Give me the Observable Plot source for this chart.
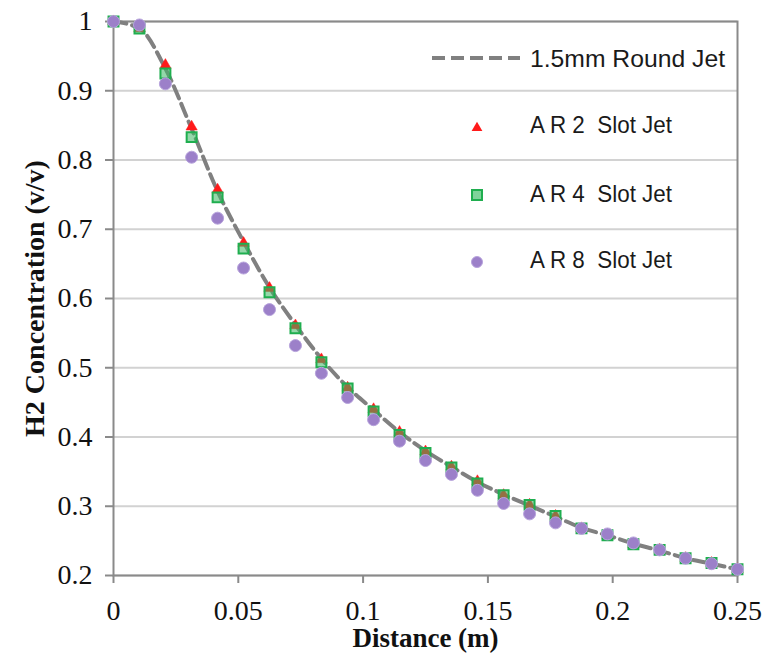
<!DOCTYPE html>
<html><head><meta charset="utf-8">
<script src="https://cdn.jsdelivr.net/npm/d3@7"></script>
<script src="https://cdn.jsdelivr.net/npm/@observablehq/plot@0.6"></script>
<style>
body{margin:0;background:#fff}
#wrap{position:relative;width:774px;height:658px}
#legend{position:absolute;left:0;top:0;pointer-events:none}
</style>
</head><body><div id="wrap"></div>
<script>
// Data
const distance = [0, 0.0104, 0.0208, 0.0313, 0.0417, 0.0521, 0.0625, 0.0729, 0.0833, 0.0938, 0.1042, 0.1146, 0.125, 0.1354, 0.1458, 0.1563, 0.1667, 0.1771, 0.1875, 0.1979, 0.2083, 0.2188, 0.2292, 0.2396, 0.25];
const roundJet = [1.0, 0.99, 0.932, 0.845, 0.755, 0.682, 0.616, 0.562, 0.513, 0.472, 0.439, 0.407, 0.38, 0.357, 0.335, 0.317, 0.301, 0.285, 0.269, 0.258, 0.246, 0.236, 0.225, 0.217, 0.209];
const ar2 = [1.0, 0.99, 0.937, 0.848, 0.757, 0.68, 0.615, 0.561, 0.512, 0.471, 0.44, 0.407, 0.379, 0.357, 0.336, 0.316, 0.302, 0.286, 0.268, 0.258, 0.245, 0.237, 0.225, 0.218, 0.209];
const ar4 = [1.0, 0.99, 0.925, 0.833, 0.746, 0.672, 0.609, 0.557, 0.508, 0.47, 0.437, 0.403, 0.377, 0.356, 0.333, 0.316, 0.302, 0.286, 0.268, 0.258, 0.245, 0.237, 0.225, 0.218, 0.209];
const ar8 = [1.0, 0.995, 0.91, 0.804, 0.716, 0.644, 0.584, 0.532, 0.492, 0.457, 0.425, 0.394, 0.366, 0.346, 0.323, 0.304, 0.289, 0.276, 0.268, 0.26, 0.247, 0.237, 0.225, 0.217, 0.209];
const xTicks = [0, 0.05, 0.1, 0.15, 0.2, 0.25];
const yTicks = [0.2, 0.3, 0.4, 0.5, 0.6, 0.7, 0.8, 0.9, 1];
const seriesNames = ["1.5mm Round Jet", "A R 2  Slot Jet", "A R 4  Slot Jet", "A R 8  Slot Jet"];
const xLabel = "Distance (m)";
const yLabel = "H2 Concentration (v/v)";

const serif = "'Liberation Serif', 'Times New Roman', serif";
const rows = (ys) => distance.map((d, i) => ({x: d, y: ys[i]}));
const fmt = d => String(+d.toFixed(2));

const chart = Plot.plot({
  width: 774, height: 658,
  marginLeft: 113, marginRight: 37, marginTop: 21, marginBottom: 83,
  style: {fontFamily: serif, fontSize: "28px", color: "#111", background: "#fff"},
  x: {domain: [0, 0.25]},
  y: {domain: [0.2, 1]},
  marks: [
    Plot.gridY(yTicks, {stroke: "#d2d2d2", strokeOpacity: 1, strokeWidth: 2}),
    Plot.frame({stroke: "#8a8a8a", strokeWidth: 2}),
    Plot.axisY(yTicks, {tickSize: 8, tickPadding: 13, tickFormat: fmt, stroke: "#8a8a8a", strokeWidth: 2, label: null, fill: "#111", fontSize: 28}),
    Plot.axisX(xTicks, {tickSize: 8, tickPadding: 17, tickFormat: fmt, stroke: "#8a8a8a", strokeWidth: 2, label: null, fill: "#111", fontSize: 28}),
    Plot.line(rows(roundJet), {x: "x", y: "y", stroke: "#808080", strokeWidth: 4, strokeDasharray: "13,6", curve: "monotone-x"}),
    Plot.dot(rows(ar2), {x: "x", y: "y", symbol: "triangle", r: 4.2, fill: "#ff1a1a", stroke: "#ff1a1a", strokeWidth: 0.5}),
    Plot.dot(rows(ar4), {x: "x", y: "y", symbol: "square", r: 5.6, fill: "#3cb864", fillOpacity: 0.55, stroke: "#1fae4f", strokeWidth: 2}),
    Plot.dot(rows(ar8), {x: "x", y: "y", symbol: "circle", r: 6, fill: "#9c80c9", stroke: "#b7a3dc", strokeWidth: 1}),
    Plot.text([yLabel], {frameAnchor: "left", dx: -78, rotate: -90, fontWeight: "bold", fontSize: 28, fill: "#111", textAnchor: "middle", lineAnchor: "middle"}),
    Plot.text([xLabel], {frameAnchor: "bottom", dy: 63, fontWeight: "bold", fontSize: 27, fill: "#111", textAnchor: "middle", lineAnchor: "middle"})
  ]
});
const wrap = document.getElementById("wrap");
wrap.appendChild(chart);
d3.select(chart).selectAll("text").style("font-family", serif).style("font-variant", "normal");

// Legend overlay
const leg = d3.select(wrap).append("svg").attr("id", "legend").attr("width", 774).attr("height", 658);
const legRows = [
  {name: seriesNames[0], kind: "line", cy: 58, base: 67, tl: 195},
  {name: seriesNames[1], kind: "triangle", cy: 128, base: 133, tl: 142},
  {name: seriesNames[2], kind: "square", cy: 195, base: 202, tl: 142},
  {name: seriesNames[3], kind: "circle", cy: 262, base: 268, tl: 142}
];
legRows.forEach(r => {
  if (r.kind === "line") {
    leg.append("line").attr("x1", 432).attr("x2", 520).attr("y1", r.cy).attr("y2", r.cy)
      .attr("stroke", "#808080").attr("stroke-width", 4).attr("stroke-dasharray", "13,6");
  } else if (r.kind === "triangle") {
    leg.append("path").attr("d", d3.symbol(d3.symbolTriangle, Math.PI * 16)()).attr("transform", `translate(477,${r.cy})`).attr("fill", "#ff1a1a");
  } else if (r.kind === "square") {
    leg.append("rect").attr("x", 472).attr("y", r.cy - 5).attr("width", 10).attr("height", 10)
      .attr("fill", "#7fd39a").attr("stroke", "#1fae4f").attr("stroke-width", 2);
  } else {
    leg.append("circle").attr("cx", 477).attr("cy", r.cy).attr("r", 5.5).attr("fill", "#9c80c9").attr("stroke", "#b7a3dc");
  }
  leg.append("text").attr("x", 530).attr("y", r.base).attr("xml:space", "preserve")
    .style("font-family", "'Liberation Sans', Arial, sans-serif").attr("font-size", 24).attr("fill", "#1a1a1a")
    .attr("textLength", r.tl).attr("lengthAdjust", "spacingAndGlyphs").text(r.name);
});
</script>
</body></html>
